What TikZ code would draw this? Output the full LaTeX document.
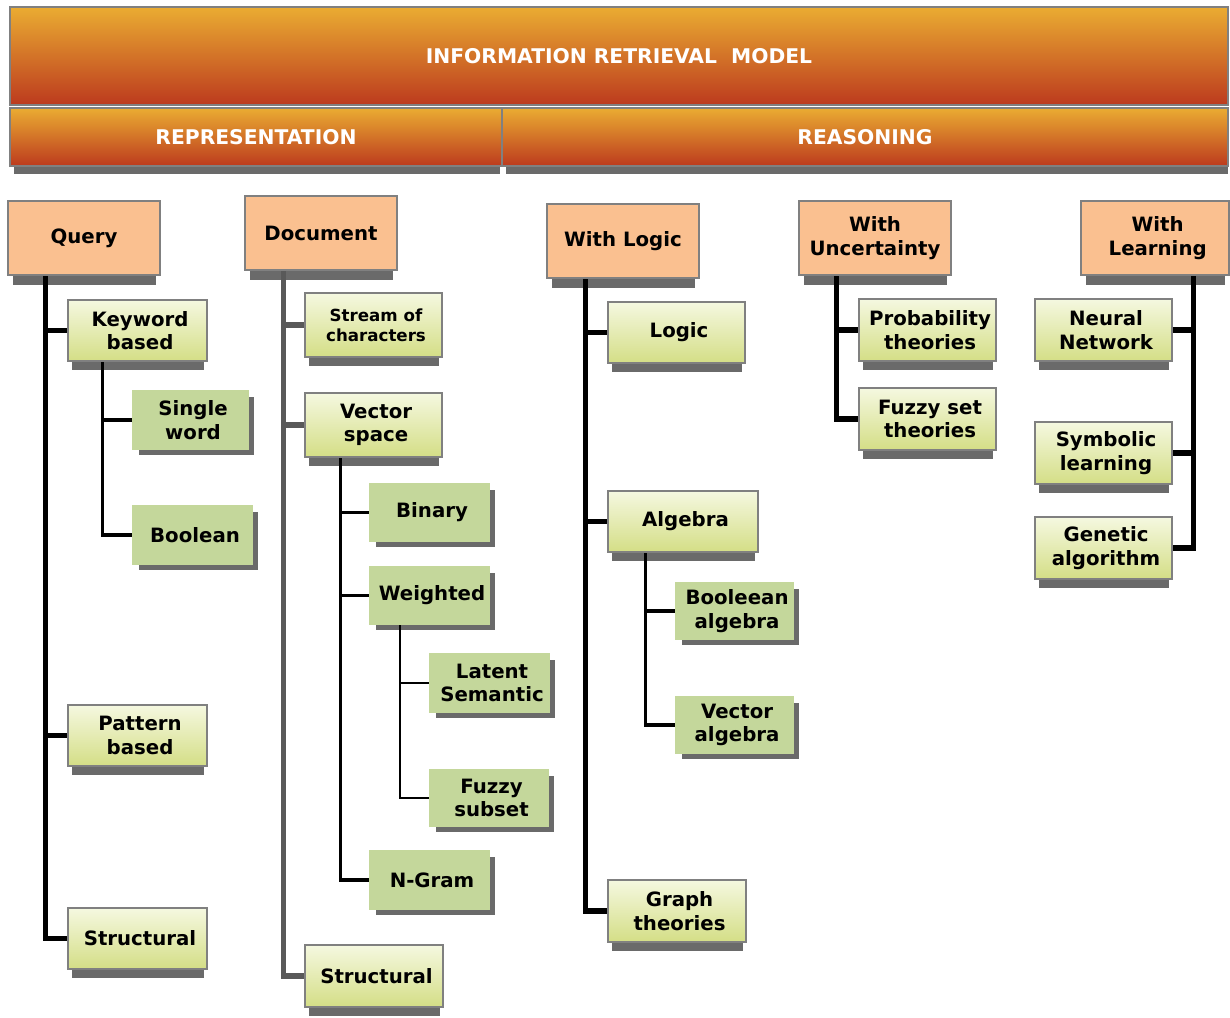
\documentclass[tikz,border=0pt]{standalone}
\usepackage{fontspec}
\setmainfont{DejaVu Sans}
\definecolor{peach}{HTML}{FAC090}
\definecolor{hdtop}{HTML}{EAAC32}
\definecolor{hdbot}{HTML}{BC3A1E}
\definecolor{gtop}{HTML}{F5F8E0}
\definecolor{gbot}{HTML}{D4DE86}
\definecolor{flatg}{HTML}{C4D79B}
\definecolor{shad}{HTML}{6A6A6A}
\definecolor{bord}{HTML}{808080}
\definecolor{docline}{HTML}{595959}
\pgfdeclarelayer{shadowlayer}
\pgfdeclarelayer{connlayer}
\pgfsetlayers{shadowlayer,connlayer,main}
\tikzset{
  boxbase/.style={inner sep=0pt},
  txt/.style={inner sep=0pt, align=center, xshift=1.9pt, font=\fontsize{14.8}{17.5}\selectfont\bfseries},
  smalltxt/.style={font=\fontsize{12.5}{15}\selectfont\bfseries},
  pbox/.style={boxbase, draw=bord, line width=0.8pt, fill=peach},
  gbox/.style={boxbase, draw=bord, line width=0.8pt, top color=gtop, bottom color=gbot},
  fbox/.style={boxbase, fill=flatg},
  hbox/.style={inner sep=0pt, draw=bord, line width=0.8pt, top color=hdtop, bottom color=hdbot, text=white, font=\fontsize{15.2}{18}\selectfont\bfseries},
  cthick/.style={line width=3.8pt, line join=miter},
  cmid/.style={line width=2.4pt, line join=miter},
  cthin/.style={line width=1.7pt, line join=miter},
  rect/.style n args={4}{minimum width={(#3-#1)*0.75pt}, minimum height={(#4-#2)*0.75pt}, at={({(#1+#3)/2},{(#2+#4)/2})}},
}
\newcommand\mkpbox[7][]{%
  \begin{pgfonlayer}{shadowlayer}\fill[shad] (#3+5,#6) rectangle (#5-4,#6+10);\end{pgfonlayer}
  \node[pbox, rect={#3}{#4}{#5}{#6}] (#2) {};
  \node[txt, xshift=-1.9pt, #1] (#2t) at (#2.center) {#7};}
\newcommand\mkgbox[7][]{%
  \begin{pgfonlayer}{shadowlayer}\fill[shad] (#3+4,#6) rectangle (#5-3,#6+9);\end{pgfonlayer}
  \node[gbox, rect={#3}{#4}{#5}{#6}] (#2) {};
  \node[txt, #1] (#2t) at (#2.center) {#7};}
\newcommand\mkfbox[7][]{%
  \begin{pgfonlayer}{shadowlayer}\fill[shad] (#3+7,#4+7) rectangle (#5+5,#6+5);\end{pgfonlayer}
  \node[fbox, rect={#3}{#4}{#5}{#6}] (#2) {};
  \node[txt, #1] (#2t) at (#2.center) {#7};}
\begin{document}
\begin{tikzpicture}[x=0.75pt,y=-0.75pt]
\useasboundingbox (0,0) rectangle (1230,1017);
% headers
\node[hbox, rect={10}{7}{1228}{105}] (irm) {INFORMATION RETRIEVAL\ \ MODEL};
\begin{pgfonlayer}{shadowlayer}
\fill[shad] (14,166) rectangle (500,174);
\fill[shad] (506,166) rectangle (1228,174);
\end{pgfonlayer}
\node[hbox, rect={10}{108}{502}{166}] (rep) {REPRESENTATION};
\node[hbox, rect={502}{108}{1228}{166}] (rea) {REASONING};
% peach boxes
\mkpbox{Q}{8}{201}{160}{275}{Query}
\mkpbox{D}{245}{196}{397}{270}{Document}
\mkpbox{WL}{547}{204}{699}{278}{With Logic}
\mkpbox{WU}{799}{201}{951}{275}{With\\Uncertainty}
\mkpbox[xshift=2pt]{WLe}{1081}{201}{1229}{275}{With\\Learning}
% gradient boxes
\mkgbox{KB}{68}{300}{207}{361}{Keyword\\based}
\mkgbox{PB}{68}{705}{207}{766}{Pattern\\based}
\mkgbox{QS}{68}{908}{207}{969}{Structural}
\mkgbox[smalltxt]{SC}{305}{293}{442}{357}{Stream of\\characters}
\mkgbox{VS}{305}{393}{442}{457}{Vector\\space}
\mkgbox{DS}{305}{945}{443}{1007}{Structural}
\mkgbox{LG}{608}{302}{745}{363}{Logic}
\mkgbox{AL}{608}{491}{758}{552}{Algebra}
\mkgbox{GT}{608}{880}{746}{942}{Graph\\theories}
\mkgbox{PT}{859}{299}{996}{361}{Probability\\theories}
\mkgbox{FT}{859}{388}{996}{450}{Fuzzy set\\theories}
\mkgbox{NN}{1035}{299}{1172}{361}{Neural\\Network}
\mkgbox{SL}{1035}{422}{1172}{484}{Symbolic\\learning}
\mkgbox{GA}{1035}{517}{1172}{579}{Genetic\\algorithm}
% flat boxes
\mkfbox{SW}{132}{390}{249}{450}{Single\\word}
\mkfbox{BO}{132}{505}{253}{565}{Boolean}
\mkfbox{BI}{369}{483}{490}{542}{Binary}
\mkfbox{WE}{369}{566}{490}{625}{Weighted}
\mkfbox{LS}{429}{653}{550}{713}{Latent\\Semantic}
\mkfbox{FS}{429}{769}{549}{827}{Fuzzy\\subset}
\mkfbox{NG}{369}{850}{490}{910}{N-Gram}
\mkfbox{BA}{675}{582}{794}{640}{Booleean\\algebra}
\mkfbox{VA}{675}{696}{794}{754}{Vector\\algebra}
% connectors
\begin{pgfonlayer}{connlayer}
\draw[cthick] (Q.south west) ++(38,0) |- (QS.west);
\draw[cthick] (KB.west) -- ++(-24,0);
\draw[cthick] (PB.west) -- ++(-24,0);
\draw[cmid] (KB.south west) ++(35,0) |- (BO.west);
\draw[cmid] (SW.west) -- ++(-30,0);
\draw[cthick, docline] (D.south west) ++(39,0) |- (DS.west);
\draw[cthick, docline] (SC.west) -- ++(-23,0);
\draw[cthick, docline] (VS.west) -- ++(-23,0);
\draw[cmid] (VS.south west) ++(36,0) |- (NG.west);
\draw[cmid] (BI.west) -- ++(-29,0);
\draw[cmid] (WE.west) -- ++(-29,0);
\draw[cthin] (WE.south west) ++(31,0) |- (FS.west);
\draw[cthin] (LS.west) -- ++(-30,0);
\draw[cthick] (WL.south west) ++(39,0) |- (GT.west);
\draw[cthick] (LG.west) -- ++(-24,0);
\draw[cthick] (AL.west) -- ++(-24,0);
\draw[cmid] (AL.south west) ++(38,0) |- (VA.west);
\draw[cmid] (BA.west) -- ++(-30,0);
\draw[cthick] (WU.south west) ++(38,0) |- (FT.west);
\draw[cthick] (PT.west) -- ++(-24,0);
\draw[cthick] (WLe.south west) ++(113,0) |- (GA.east);
\draw[cthick] (NN.east) -- ++(22,0);
\draw[cthick] (SL.east) -- ++(22,0);
\end{pgfonlayer}
\end{tikzpicture}
\end{document}
